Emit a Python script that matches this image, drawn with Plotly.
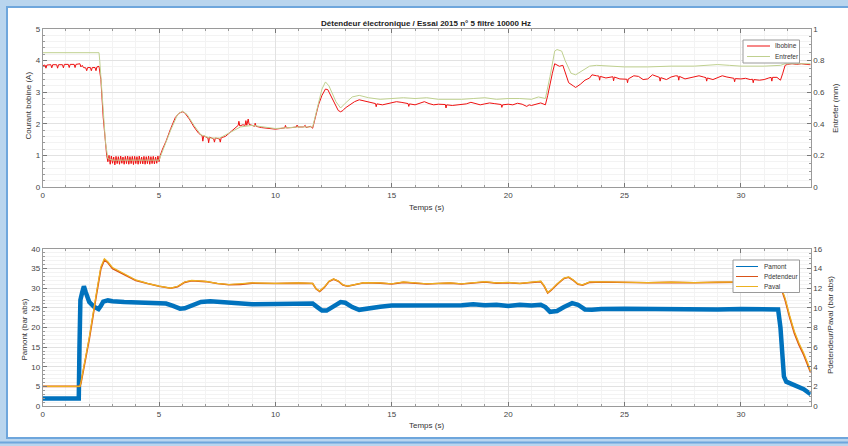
import plotly.graph_objects as go

W, H = 848, 446

# ---------------- data ----------------
ibobine = [
    (0, 3.84), (0.1, 3.86), (0.14, 3.76), (0.18, 3.86), (0.35, 3.87), (0.39, 3.77), (0.43, 3.87),
    (0.6, 3.87), (0.64, 3.76), (0.68, 3.87), (0.85, 3.87), (0.89, 3.77), (0.93, 3.88), (1.1, 3.88),
    (1.14, 3.78), (1.18, 3.88), (1.35, 3.88), (1.39, 3.78), (1.43, 3.88), (1.6, 3.9), (1.64, 3.8),
    (1.7, 3.85), (1.75, 3.78), (1.85, 3.77), (1.89, 3.68), (1.93, 3.78), (2.05, 3.78), (2.09, 3.68),
    (2.13, 3.78), (2.25, 3.78), (2.29, 3.68), (2.33, 3.8), (2.42, 3.82),
    (2.5, 3.4), (2.6, 2.2), (2.7, 1.2), (2.75, 1.0),
    (2.8, 0.8), (2.85, 1.0), (2.9, 0.72), (2.95, 0.98), (3.0, 0.75), (3.05, 0.95), (3.1, 0.7),
    (3.15, 0.97), (3.2, 0.74), (3.25, 0.96), (3.3, 0.72), (3.35, 0.98), (3.4, 0.75), (3.45, 0.95),
    (3.5, 0.72), (3.55, 0.97), (3.6, 0.74), (3.65, 0.98), (3.7, 0.72), (3.75, 0.96), (3.8, 0.74),
    (3.85, 0.97), (3.9, 0.71), (3.95, 0.97), (4.0, 0.74), (4.05, 0.96), (4.1, 0.72), (4.15, 0.98),
    (4.2, 0.74), (4.25, 0.95), (4.3, 0.73), (4.35, 0.97), (4.4, 0.72), (4.45, 0.96), (4.5, 0.74),
    (4.55, 0.98), (4.6, 0.72), (4.65, 0.96), (4.7, 0.74), (4.75, 0.97), (4.8, 0.73), (4.85, 0.95),
    (4.9, 0.75), (4.95, 0.98), (5.0, 0.8), (5.05, 1.0),
    (5.15, 1.2), (5.3, 1.45), (5.5, 1.85), (5.7, 2.2), (5.85, 2.33), (6.0, 2.38), (6.1, 2.35),
    (6.3, 2.15), (6.5, 1.9), (6.7, 1.7), (6.85, 1.62), (6.88, 1.45), (6.92, 1.62), (7.1, 1.55),
    (7.13, 1.4), (7.17, 1.58), (7.35, 1.52), (7.38, 1.42), (7.42, 1.55), (7.6, 1.52), (7.63, 1.42),
    (7.67, 1.56), (7.85, 1.6), (8.0, 1.7), (8.15, 1.8), (8.3, 1.88), (8.4, 1.95), (8.43, 2.08),
    (8.47, 1.93), (8.6, 1.97), (8.7, 1.95), (8.73, 2.1), (8.77, 1.95), (8.83, 2.15), (8.87, 1.98),
    (9.0, 1.95), (9.1, 1.92), (9.13, 2.02), (9.17, 1.92), (9.4, 1.88), (9.6, 1.86), (9.8, 1.85),
    (10.0, 1.83), (10.2, 1.85), (10.4, 1.87), (10.43, 1.95), (10.47, 1.87), (10.7, 1.88), (10.9, 1.9),
    (10.93, 1.96), (10.97, 1.9), (11.2, 1.9), (11.28, 1.95), (11.32, 1.88), (11.5, 1.92), (11.6, 1.86),
    (11.7, 2.2), (11.85, 2.6), (12.0, 2.9), (12.15, 3.1), (12.25, 3.08), (12.4, 2.85), (12.55, 2.6),
    (12.7, 2.42), (12.8, 2.38), (12.9, 2.42), (13.0, 2.5), (13.2, 2.6), (13.4, 2.7), (13.6, 2.76),
    (13.8, 2.72), (14.0, 2.68), (14.2, 2.65), (14.3, 2.64), (14.33, 2.54), (14.36, 2.63), (14.6, 2.6),
    (14.8, 2.63), (15.0, 2.65), (15.2, 2.7), (15.4, 2.68), (15.6, 2.65), (15.7, 2.64), (15.73, 2.55),
    (15.76, 2.63), (16.0, 2.6), (16.2, 2.65), (16.4, 2.7), (16.6, 2.64), (16.8, 2.6), (17.0, 2.62),
    (17.2, 2.6), (17.3, 2.61), (17.33, 2.5), (17.36, 2.6), (17.6, 2.58), (17.8, 2.6), (18.0, 2.6),
    (18.2, 2.63), (18.4, 2.68), (18.6, 2.65), (18.8, 2.6), (19.0, 2.63), (19.2, 2.66), (19.4, 2.64),
    (19.6, 2.62), (19.7, 2.61), (19.73, 2.52), (19.76, 2.6), (20.0, 2.62), (20.2, 2.6), (20.4, 2.65),
    (20.6, 2.62), (20.8, 2.55), (20.9, 2.6), (21.0, 2.58), (21.2, 2.63), (21.4, 2.66), (21.5, 2.63),
    (21.6, 2.6),
    (21.7, 2.9), (21.8, 3.3), (21.9, 3.6), (22.0, 3.9), (22.1, 3.85), (22.2, 3.82), (22.35, 3.85),
    (22.45, 3.6), (22.6, 3.3), (22.8, 3.2), (22.9, 3.15), (23.1, 3.25), (23.3, 3.38), (23.5, 3.45),
    (23.6, 3.55), (23.8, 3.52), (23.9, 3.51), (23.93, 3.38), (23.96, 3.5), (24.2, 3.45), (24.4, 3.48),
    (24.5, 3.49), (24.53, 3.36), (24.56, 3.48), (24.8, 3.42), (25.0, 3.4), (25.1, 3.41), (25.13, 3.3),
    (25.16, 3.42), (25.4, 3.52), (25.6, 3.5), (25.8, 3.4), (26.0, 3.42), (26.2, 3.55), (26.4, 3.5),
    (26.5, 3.47), (26.53, 3.35), (26.56, 3.46), (26.8, 3.4), (27.0, 3.48), (27.2, 3.52), (27.3, 3.51),
    (27.33, 3.38), (27.36, 3.5), (27.6, 3.42), (27.8, 3.45), (28.0, 3.5), (28.2, 3.52), (28.4, 3.48),
    (28.5, 3.46), (28.53, 3.35), (28.56, 3.45), (28.8, 3.4), (29.0, 3.45), (29.2, 3.52), (29.4, 3.48),
    (29.6, 3.45), (29.7, 3.44), (29.73, 3.33), (29.76, 3.43), (30.0, 3.42), (30.2, 3.44), (30.4, 3.4),
    (30.5, 3.41), (30.53, 3.3), (30.56, 3.4), (30.8, 3.38), (31.0, 3.4), (31.2, 3.45), (31.3, 3.47),
    (31.33, 3.35), (31.36, 3.47), (31.55, 3.47), (31.7, 3.38), (31.8, 3.6), (31.9, 3.85), (32.0, 3.88),
    (32.2, 3.9), (32.4, 3.88), (32.6, 3.9), (32.8, 3.88), (33.0, 3.87),
]

entrefer = [
    (0, 0.85), (2.42, 0.85), (2.45, 0.8), (2.6, 0.5), (2.7, 0.28), (2.8, 0.18), (3.0, 0.17),
    (5.0, 0.17), (5.2, 0.25), (5.5, 0.36), (5.8, 0.46), (6.0, 0.48), (6.2, 0.46), (6.5, 0.39),
    (6.8, 0.33), (7.2, 0.31), (7.6, 0.31), (8.0, 0.34), (8.5, 0.38), (9.0, 0.39), (9.5, 0.38),
    (10, 0.37), (11, 0.38), (11.6, 0.38), (11.8, 0.5), (12.0, 0.62), (12.15, 0.665), (12.3, 0.64),
    (12.6, 0.54), (12.8, 0.5), (13.0, 0.53), (13.3, 0.57), (13.6, 0.58), (14, 0.565), (14.5, 0.555),
    (15, 0.56), (15.5, 0.565), (16, 0.56), (16.5, 0.565), (17, 0.555), (18, 0.555), (18.5, 0.56),
    (19, 0.565), (19.5, 0.555), (20, 0.56), (20.5, 0.56), (21, 0.555), (21.3, 0.57), (21.6, 0.56),
    (21.8, 0.7), (22.0, 0.86), (22.1, 0.87), (22.3, 0.86), (22.45, 0.8), (22.7, 0.72), (22.9, 0.71),
    (23.2, 0.74), (23.5, 0.765), (23.8, 0.77), (24.5, 0.765), (25, 0.76), (26, 0.76), (27, 0.765),
    (28, 0.765), (29, 0.775), (29.5, 0.77), (30, 0.765), (31, 0.765), (31.7, 0.77), (31.9, 0.78),
    (33, 0.78),
]

pamont = [
    (0, 1.9), (1.55, 1.9), (1.58, 15), (1.62, 27), (1.7, 29), (1.77, 30.5), (1.85, 29), (2.0, 26.5),
    (2.2, 25.3), (2.4, 24.7), (2.5, 25.5), (2.6, 26.6), (2.8, 26.9), (3.0, 26.7), (3.5, 26.5),
    (4.0, 26.4), (4.5, 26.3), (5.0, 26.3), (5.3, 26.1), (5.6, 25.5), (5.9, 24.8), (6.1, 24.9),
    (6.4, 25.7), (6.8, 26.5), (7.2, 26.7), (7.6, 26.5), (8.0, 26.2), (8.5, 25.9), (9, 25.9),
    (10, 26.0), (11, 26.0), (11.6, 26.1), (11.8, 25.2), (12.0, 24.3), (12.2, 24.3), (12.5, 25.5),
    (12.8, 26.5), (13.0, 26.3), (13.3, 25.2), (13.6, 24.5), (13.9, 24.8), (14.5, 25.3), (15, 25.6),
    (15.5, 25.6), (16, 25.8), (16.5, 25.6), (17, 25.7), (17.5, 25.6), (18, 25.7), (18.5, 25.9),
    (19, 25.7), (19.5, 25.8), (20, 25.5), (20.5, 25.8), (21, 25.6), (21.4, 25.8), (21.6, 25.2),
    (21.8, 24.0), (22.1, 24.2), (22.4, 25.2), (22.75, 26.2), (23.0, 25.8), (23.3, 24.6),
    (23.6, 24.5), (24, 24.7), (25, 24.8), (26, 24.7), (27, 24.7), (28, 24.6), (29, 24.6),
    (30, 24.7), (31, 24.6), (31.6, 24.6), (31.7, 20), (31.78, 12), (31.85, 7.5), (31.95, 6.2),
    (32.1, 5.8), (32.4, 5.2), (32.7, 4.3), (33, 3.0),
]

t_press = [0, 1.6, 1.65, 2.0, 2.3, 2.5, 2.65, 2.8, 3.0, 3.5, 4.0, 4.5, 5.0, 5.5, 5.8, 6.1, 6.4, 7,
           7.5, 8, 8.5, 9, 10, 11, 11.6, 11.75, 11.9, 12.1, 12.3, 12.5, 12.7, 12.9, 13.1, 13.4, 13.8,
           14.5, 15, 15.5, 16, 16.5, 17, 17.5, 18, 18.5, 19, 19.5, 20, 20.5, 21, 21.4, 21.55, 21.7,
           21.85, 22.1, 22.4, 22.6, 22.8, 23.0, 23.2, 23.5, 24, 25, 26, 27, 28, 29, 30, 31, 31.5,
           31.7, 31.9, 32.1, 32.3, 32.5, 32.7, 32.9, 33]
pdetendeur = [2.0, 2.0, 2.4, 6.8, 11.2, 14.0, 14.88, 14.6, 14.0, 13.4, 12.8, 12.48, 12.2, 12.0, 12.16,
              12.6, 12.76, 12.68, 12.48, 12.36, 12.4, 12.52, 12.48, 12.52, 12.48, 11.92, 11.68, 12.08,
              12.68, 12.92, 12.72, 12.32, 12.2, 12.36, 12.56, 12.52, 12.44, 12.6, 12.52, 12.44, 12.48,
              12.52, 12.44, 12.52, 12.64, 12.52, 12.56, 12.48, 12.56, 12.68, 12.2, 11.52, 11.8, 12.4,
              13.0, 13.12, 12.8, 12.4, 12.32, 12.6, 12.64, 12.6, 12.56, 12.6, 12.56, 12.6, 12.6, 12.64,
              12.64, 12.2, 10.8, 9.0, 7.4, 6.2, 5.2, 4.0, 3.4]
paval = [2.0, 2.0, 2.5, 7.0, 11.4, 14.2, 15.0, 14.7, 14.1, 13.45, 12.85, 12.5, 12.22, 12.02, 12.2,
         12.64, 12.8, 12.7, 12.5, 12.38, 12.44, 12.55, 12.5, 12.55, 12.5, 11.95, 11.72, 12.12, 12.72,
         12.96, 12.75, 12.35, 12.22, 12.4, 12.58, 12.55, 12.46, 12.64, 12.55, 12.46, 12.5, 12.55,
         12.46, 12.55, 12.68, 12.55, 12.6, 12.5, 12.6, 12.72, 12.24, 11.56, 11.84, 12.44, 13.04,
         13.16, 12.84, 12.44, 12.35, 12.64, 12.66, 12.62, 12.58, 12.62, 12.58, 12.62, 12.62, 12.66,
         12.66, 12.3, 11.0, 9.2, 7.6, 6.4, 5.4, 4.2, 3.5]

title_text = "Détendeur électronique / Essai 2015 n° 5 filtré 10000 Hz"
legend_top = ["Ibobine", "Entrefer"]
legend_bottom = ["Pamont", "Pdetendeur", "Paval"]

t_ib, v_ib = zip(*ibobine)
t_en, v_en = zip(*entrefer)
t_pa, v_pa = zip(*pamont)

RED = "#ee1111"
GREEN = "#bfd08f"
BLUE = "#0072BD"
ORANGE = "#D95319"
YELLOW = "#EDB120"

fig = go.Figure()

# top panel
fig.add_trace(go.Scatter(x=t_ib, y=v_ib, mode="lines", line=dict(color=RED, width=1),
                         xaxis="x", yaxis="y", name=legend_top[0]))
fig.add_trace(go.Scatter(x=t_en, y=v_en, mode="lines", line=dict(color=GREEN, width=1),
                         xaxis="x", yaxis="y2", name=legend_top[1]))
# bottom panel
fig.add_trace(go.Scatter(x=t_pa, y=v_pa, mode="lines", line=dict(color=BLUE, width=4.5),
                         xaxis="x2", yaxis="y3", name=legend_bottom[0]))
fig.add_trace(go.Scatter(x=t_press, y=pdetendeur, mode="lines", line=dict(color=ORANGE, width=1.6),
                         xaxis="x2", yaxis="y4", name=legend_bottom[1]))
fig.add_trace(go.Scatter(x=t_press, y=paval, mode="lines", line=dict(color=YELLOW, width=1.2),
                         xaxis="x2", yaxis="y4", name=legend_bottom[2]))


def px_x(x):
    return x / W


def px_y(y):
    return 1 - y / H


XD = [px_x(42.7), px_x(810.7)]
TOPD = [px_y(187), px_y(29)]
BOTD = [px_y(406), px_y(249)]

FAM = "Liberation Sans, Arial, sans-serif"
TF = dict(family=FAM, size=8, color="#444")
GRID = "#e2e2e2"
MGRID = "#f3f3f3"
LINE = "#9a9a9a"


def xax(anchor):
    return dict(domain=XD, range=[0, 33], dtick=5, tick0=0, ticks="inside", ticklen=4,
                tickcolor="#777", showline=True, linecolor=LINE, linewidth=1, mirror="ticks",
                showgrid=True, gridcolor=GRID, zeroline=False, tickfont=TF, anchor=anchor,
                automargin=False,
                minor=dict(dtick=1, ticks="inside", ticklen=2, tickcolor="#999",
                           showgrid=True, gridcolor=MGRID))


def yax(dom, rng, dt, mdt, anchor, side="left", overlay=None, grid=True):
    d = dict(domain=dom, range=rng, dtick=dt, tick0=0, ticks="inside", ticklen=4,
             tickcolor="#777", showline=True, linecolor=LINE, linewidth=1,
             showgrid=grid, gridcolor=GRID, zeroline=False, tickfont=TF, side=side,
             anchor=anchor, automargin=False,
             minor=dict(dtick=mdt, ticks="inside", ticklen=2, tickcolor="#999",
                        showgrid=grid, gridcolor=MGRID))
    if overlay:
        d["overlaying"] = overlay
    return d


fig.update_layout(
    width=W, height=H, autosize=False,
    margin=dict(l=0, r=0, t=0, b=0, pad=0),
    paper_bgcolor="#b9d5ee", plot_bgcolor="white",
    font=dict(family=FAM, size=8, color="#333"),
    showlegend=False,
    xaxis=xax("y"),
    yaxis=yax(TOPD, [0, 5], 1, 0.2, "x"),
    yaxis2=yax(TOPD, [0, 1], 0.2, 0.05, "x", side="right", overlay="y", grid=False),
    xaxis2=xax("y3"),
    yaxis3=yax(BOTD, [0, 40], 5, 1, "x2"),
    yaxis4=yax(BOTD, [0, 16], 2, 0.5, "x2", side="right", overlay="y3", grid=False),
)

BL = "#6ea6dc"
shapes = [
    dict(type="rect", x0=px_x(8), x1=1.0, y0=px_y(437), y1=px_y(8),
         fillcolor="white", line=dict(width=0), layer="below"),
    dict(type="line", x0=px_x(6), x1=1.0, y0=px_y(7), y1=px_y(7),
         line=dict(color=BL, width=2), layer="below"),
    dict(type="line", x0=px_x(7), x1=px_x(7), y0=px_y(438), y1=px_y(6),
         line=dict(color=BL, width=2), layer="below"),
    dict(type="line", x0=px_x(6), x1=1.0, y0=px_y(438), y1=px_y(438),
         line=dict(color=BL, width=2), layer="below"),
    dict(type="line", x0=0, x1=1.0, y0=px_y(442.5), y1=px_y(442.5),
         line=dict(color=BL, width=2), layer="below"),
    # legend boxes
    dict(type="rect", x0=px_x(743), x1=px_x(799.5), y0=px_y(63), y1=px_y(40),
         fillcolor="white", line=dict(color="#9a9a9a", width=1), layer="above"),
    dict(type="rect", x0=px_x(733), x1=px_x(799.5), y0=px_y(292.5), y1=px_y(260),
         fillcolor="white", line=dict(color="#9a9a9a", width=1), layer="above"),
]
# legend sample lines
leg_items = [
    (legend_top[0], RED, 747, 770, 46, 773),
    (legend_top[1], GREEN, 747, 770, 56.5, 773),
    (legend_bottom[0], BLUE, 736, 758, 266.5, 762),
    (legend_bottom[1], ORANGE, 736, 758, 276.5, 762),
    (legend_bottom[2], YELLOW, 736, 758, 286.5, 762),
]
for name, col, xa, xb, yy, xt in leg_items:
    shapes.append(dict(type="line", x0=px_x(xa), x1=px_x(xb), y0=px_y(yy), y1=px_y(yy),
                       line=dict(color=col, width=1), layer="above"))
for s in shapes:
    s["xref"] = "paper"
    s["yref"] = "paper"
fig.update_layout(shapes=shapes)

AF = dict(family=FAM, size=8, color="#333")
ann = [
    dict(text="<b>" + title_text + "</b>", x=px_x(426), y=px_y(23), font=dict(AF, color="#222")),
    dict(text="Courant bobine (A)", x=px_x(27.5), y=px_y(106), textangle=-90),
    dict(text="Entrefer (mm)", x=px_x(835), y=px_y(108), textangle=-90),
    dict(text="Temps (s)", x=px_x(426), y=px_y(207)),
    dict(text="Pamont (bar abs)", x=px_x(23.5), y=px_y(330), textangle=-90),
    dict(text="Pdetendeur/Paval (bar abs)", x=px_x(830), y=px_y(325), textangle=-90),
    dict(text="Temps (s)", x=px_x(426), y=px_y(425)),
]
for name, col, xa, xb, yy, xt in leg_items:
    ann.append(dict(text=name, x=px_x(xt), y=px_y(yy), xanchor="left",
                    font=dict(family=FAM, size=6.5, color="#333")))
for a in ann:
    base = dict(xref="paper", yref="paper", showarrow=False, xanchor="center", yanchor="middle",
                font=AF)
    base.update(a)
    fig.add_annotation(**base)

fig.write_html(
    "out.html",
    config={"displayModeBar": False, "staticPlot": True},
    post_script="document.body.style.margin='0';document.body.style.padding='0';"
                "document.body.style.overflow='hidden';",
)
